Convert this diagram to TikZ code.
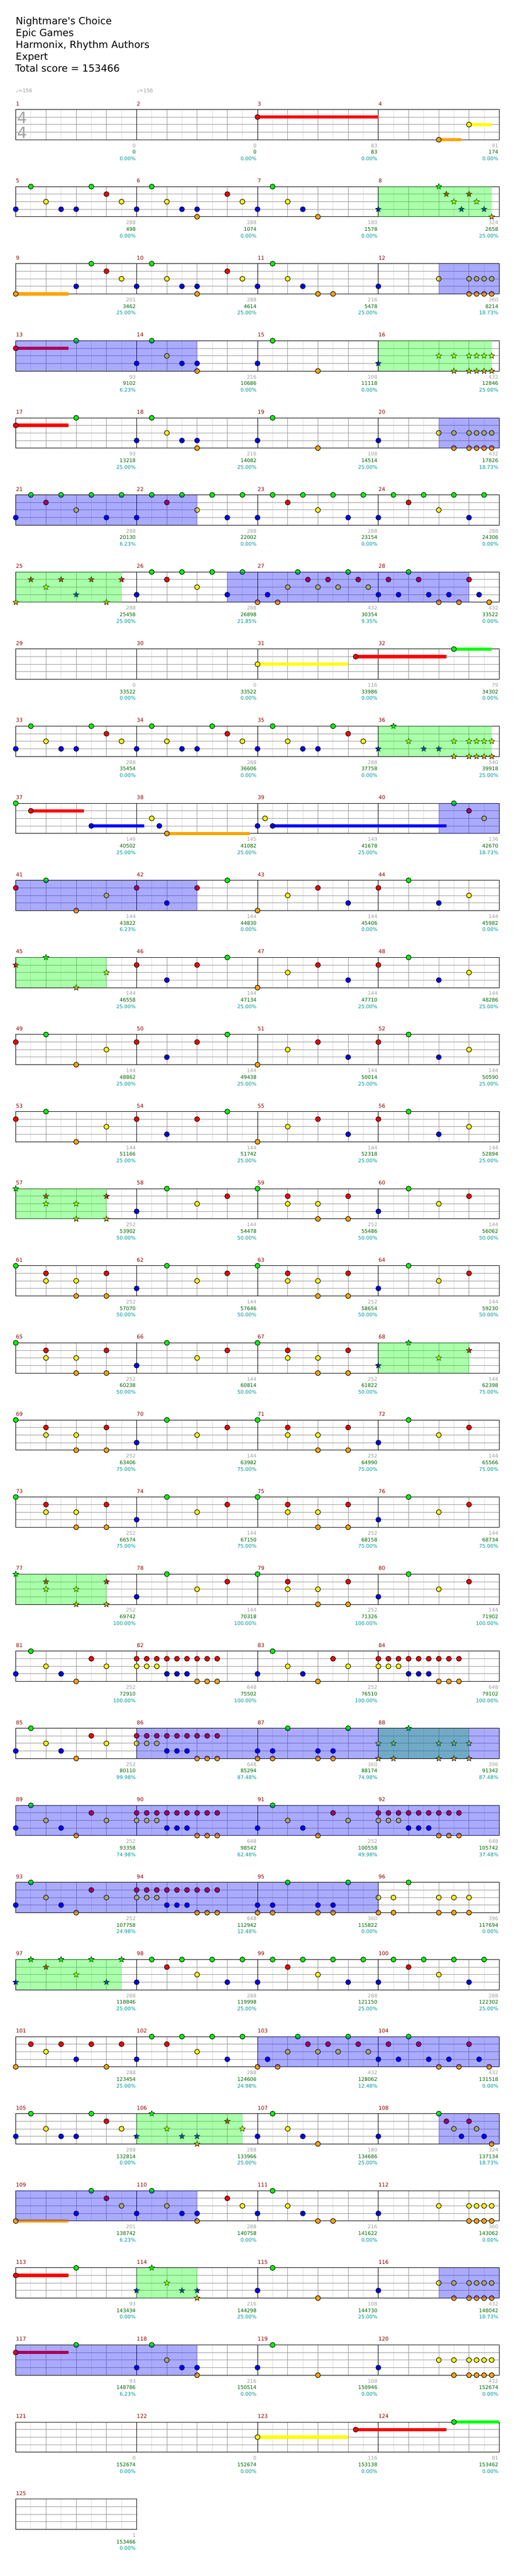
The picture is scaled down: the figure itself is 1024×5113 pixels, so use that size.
\documentclass[tikz,border=0pt]{standalone}
\usepackage{fontspec}
\newfontfamily\dv{DejaVu Sans}
\usetikzlibrary{shapes.geometric}
\definecolor{cG}{RGB}{0,255,0}
\definecolor{cR}{RGB}{255,0,0}
\definecolor{cY}{RGB}{255,255,0}
\definecolor{cB}{RGB}{0,0,255}
\definecolor{cO}{RGB}{255,165,0}
\definecolor{lgray}{RGB}{221,221,221}
\definecolor{mgray}{RGB}{153,153,153}
\definecolor{numred}{RGB}{139,0,0}
\definecolor{scgray}{RGB}{160,160,160}
\definecolor{scgreen}{RGB}{0,100,0}
\definecolor{sccyan}{RGB}{0,150,150}
\def\yG{0}\def\yR{15}\def\yY{30}\def\yB{45}\def\yO{60}
\tikzset{
  starnote/.style={star,star points=5,star point ratio=2.3,draw=black,line width=0.35pt,inner sep=0pt,minimum size=6pt},
  mnum/.style={anchor=base west,inner sep=0pt,text=numred,font=\dv\fontsize{5.25}{6}\selectfont},
  sc/.style={anchor=base east,inner sep=0pt,font=\dv\fontsize{5}{6}\selectfont},
  hdr/.style={anchor=base west,inner sep=0pt,font=\dv\fontsize{9.75}{11}\selectfont},
}
\newcommand\nt[2]{\foreach \pp in {#2}{\filldraw[fill=c#1,draw=black,line width=0.5pt] ({31.333+15*(\pp)},\csname y#1\endcsname) circle[radius=5];}}
\newcommand\stn[2]{\foreach \pp in {#2}{\node[starnote,fill=c#1] at ({31.333+15*(\pp)},\csname y#1\endcsname) {};}}
\newcommand\sus[3]{\fill[c#1] ({31.333+15*(#2)},{\csname y#1\endcsname-3.3}) rectangle ({31.333+15*(#3)},{\csname y#1\endcsname+3.3});}
\newcommand\ovb[2]{\fill[cB,fill opacity=0.333] ({31.333+15*(#1)},0) rectangle ({31.333+15*(#2)},60);}
\newcommand\ovg[2]{\fill[cG,fill opacity=0.333] ({31.333+15*(#1)},0) rectangle ({31.333+15*(#2)},60);}
\newcommand\rowgrid[1]{%
 \foreach \mm in {0,...,#1}{%
  \foreach \dx in {30,90,150,210}{\draw[lgray,line width=0.5pt] ({31.333+240*\mm+\dx},0)--++(0,60);}
  \foreach \dx in {60,120,180}{\draw[mgray,line width=0.5pt] ({31.333+240*\mm+\dx},0)--++(0,60);}
 }%
 \foreach \yy in {15,30,45}{\draw[mgray,line width=0.5pt] (31.333,\yy)--({31.333+240*(#1+1)},\yy);}
 \foreach \mm in {0,...,#1}{\draw[black,line width=0.5pt] ({31.333+240*\mm},0)--++(0,60);}
 \draw[black,line width=0.5pt] (31.333,0) rectangle ({31.333+240*(#1+1)},60);
}
\newcommand\msr[5]{%
 \node[mnum] at ({31.333+240*#1},-7.7) {#2};
 \node[sc,text=scgray] at ({31.333+240*(#1+1)-1.5},75.3) {#3};
 \node[sc,text=scgreen] at ({31.333+240*(#1+1)-1.5},88.3) {#4};
 \node[sc,text=sccyan] at ({31.333+240*(#1+1)-1.5},101.3) {#5\%};
}
\newcommand\trip[1]{\nt{R}{#1+0,#1+1.333,#1+2.667,#1+4,#1+5.333,#1+6.667,#1+8,#1+9.333,#1+10.667}\nt{Y}{#1+0,#1+1.333,#1+2.667}\nt{B}{#1+4,#1+5.333,#1+6.667}\nt{O}{#1+8,#1+9.333,#1+10.667}}
\newcommand\patA{\nt{R}{0,16,24,40,48}\nt{G}{4,28,52}\nt{O}{8,32}\nt{Y}{12,36,60}\nt{B}{20,44,56}}
\newcommand\patB{\nt{G}{0,20,32,52}\nt{R}{4,12,28,36,44,60}\nt{Y}{4,8,24,36,40,56}\nt{O}{8,12,40,44}\nt{B}{16,48}}
\newcommand\patS{\stn{G}{0}\stn{R}{4,12}\stn{Y}{4,8}\stn{O}{8,12}\nt{G}{20,32,52}\nt{R}{28,36,44,60}\nt{Y}{24,36,40,56}\nt{O}{40,44}\nt{B}{16,48}\ovg{0}{12}}
\begin{document}
\begin{tikzpicture}[x=0.5pt,y=-0.5pt]
\useasboundingbox (0,0) rectangle (1024,5113);
\node[hdr] (t1) at (31,49) {Nightmare's Choice};
\node[hdr] (t2) at (31,72.3) {Epic Games};
\node[hdr] (t3) at (31,95.7) {Harmonix, Rhythm Authors};
\node[hdr] (t4) at (31,119) {Expert};
\node[hdr] (t5) at (30,142.3) {Total score = 153466};
\node[anchor=base west,inner sep=0pt,text=mgray,font=\dv\fontsize{5}{6}\selectfont] (tp1) at (31.333,184) {♩=156};
\node[anchor=base west,inner sep=0pt,text=mgray,font=\dv\fontsize{5}{6}\selectfont] (tp2) at (271.333,184) {♩=156};
% row 1
\begin{scope}[shift={(0,217.333)}]
\rowgrid{3}
\node[anchor=base,inner sep=0pt,text=scgray,font=\dv\fontsize{15.5}{16}\selectfont] (ts1) at (44.5,28) {4};
\node[anchor=base,inner sep=0pt,text=scgray,font=\dv\fontsize{15.5}{16}\selectfont] (ts2) at (44.5,57) {4};
\sus{R}{32}{48}\sus{O}{56}{59}\sus{Y}{60}{63}
\nt{R}{32}\nt{O}{56}\nt{Y}{60}
\msr{0}{1}{0}{0}{0.00}\msr{1}{2}{0}{0}{0.00}\msr{2}{3}{83}{83}{0.00}\msr{3}{4}{91}{174}{0.00}
\end{scope}
% row 2
\begin{scope}[shift={(0,370.333)}]
\rowgrid{3}
\nt{G}{2,10,18,34}\nt{R}{12,28}\nt{Y}{4,14,20,30,36}\nt{B}{0,6,8,16,22,24,32,38}\nt{O}{24,40}
\stn{B}{48,59,62}\stn{G}{56}\stn{R}{57,60}\stn{Y}{58,61}\stn{O}{63}
\ovg{48}{63}
\msr{0}{5}{288}{498}{0.00}\msr{1}{6}{288}{1074}{0.00}\msr{2}{7}{180}{1578}{0.00}\msr{3}{8}{324}{2658}{25.00}
\end{scope}
% row 3
\begin{scope}[shift={(0,523.333)}]
\rowgrid{3}
\sus{O}{0}{7}
\nt{G}{10,18,34}\nt{R}{12,28}\nt{Y}{14,20,30,36,56,60,61,62,63}\nt{B}{8,16,22,24,32,38,48}\nt{O}{0,24,40,42,60,61,62,63}
\ovb{56}{64}
\msr{0}{9}{201}{3462}{25.00}\msr{1}{10}{288}{4614}{25.00}\msr{2}{11}{216}{5478}{25.00}\msr{3}{12}{360}{8214}{18.73}
\end{scope}
% row 4
\begin{scope}[shift={(0,676.333)}]
\rowgrid{3}
\sus{R}{0}{7}\nt{R}{0}\nt{G}{8,18,34}\nt{Y}{20}\nt{B}{16,22,24,32}\nt{O}{24,40}
\stn{B}{48}\stn{Y}{56,58,60,61,62,63}\stn{O}{58,60,61,62,63}
\ovg{48}{63}\ovb{0}{24}
\msr{0}{13}{93}{9102}{6.23}\msr{1}{14}{216}{10686}{0.00}\msr{2}{15}{108}{11118}{0.00}\msr{3}{16}{432}{12846}{25.00}
\end{scope}
% row 5
\begin{scope}[shift={(0,829.333)}]
\rowgrid{3}
\sus{R}{0}{7}\nt{R}{0}\nt{G}{8,18,34}\nt{Y}{20,56,58,60,61,62,63}\nt{B}{16,22,24,32,48}\nt{O}{24,40,58,60,61,62,63}
\ovb{56}{64}
\msr{0}{17}{93}{13218}{25.00}\msr{1}{18}{216}{14082}{25.00}\msr{2}{19}{108}{14514}{25.00}\msr{3}{20}{432}{17826}{18.73}
\end{scope}
% row 6
\begin{scope}[shift={(0,982.333)}]
\rowgrid{3}
\nt{G}{2,6,10,14,18,22,26,30,34,38,42,46,50,54,58,62}\nt{R}{4,20,36,52}\nt{Y}{8,24,40,56}\nt{B}{0,12,16,28,32,44,48,60}
\ovb{0}{24}
\msr{0}{21}{288}{20130}{6.23}\msr{1}{22}{288}{22002}{0.00}\msr{2}{23}{288}{23154}{0.00}\msr{3}{24}{288}{24306}{0.00}
\end{scope}
% row 7
\begin{scope}[shift={(0,1135.333)}]
\rowgrid{3}
\stn{O}{0,12}\stn{R}{2,6,10,14}\stn{Y}{4}\stn{B}{8}
\nt{G}{18,22,26,30,37.333,44,52}\nt{R}{20,38.667,41.333,45.333,49.333,53.333,60}\nt{Y}{24,36,40,42.667,46.667}\nt{B}{16,28,33.333,48,50.667,54.667,57.333,61.333}\nt{O}{32,34.667,56,58.667,62.667}
\ovg{0}{14}\ovb{28}{60}
\msr{0}{25}{288}{25458}{25.00}\msr{1}{26}{288}{26898}{21.85}\msr{2}{27}{432}{30354}{9.35}\msr{3}{28}{432}{33522}{0.00}
\end{scope}
% row 8
\begin{scope}[shift={(0,1288.333)}]
\rowgrid{3}
\sus{Y}{32}{44}\sus{R}{45}{57}\sus{G}{58}{63}\nt{Y}{32}\nt{R}{45}\nt{G}{58}
\msr{0}{29}{0}{33522}{0.00}\msr{1}{30}{0}{33522}{0.00}\msr{2}{31}{116}{33986}{0.00}\msr{3}{32}{79}{34302}{0.00}
\end{scope}
% row 9
\begin{scope}[shift={(0,1441.333)}]
\rowgrid{3}
\nt{G}{2,10,18,26,34,42}\nt{R}{12,28,44}\nt{Y}{4,14,20,30,36,46}\nt{B}{0,6,8,16,22,24,32,38,40}
\stn{B}{48,54,56}\stn{G}{50}\stn{Y}{52,58,60,61,62,63}\stn{O}{58,60,61,62,63}
\ovg{48}{63}
\msr{0}{33}{288}{35454}{0.00}\msr{1}{34}{288}{36606}{0.00}\msr{2}{35}{288}{37758}{0.00}\msr{3}{36}{540}{39918}{25.00}
\end{scope}
% row 10
\begin{scope}[shift={(0,1594.333)}]
\rowgrid{3}
\sus{R}{2}{9}\sus{B}{10}{17}\sus{O}{20}{31}\sus{B}{34}{57}
\nt{G}{0,58}\nt{R}{2,60}\nt{B}{10,19,32,34}\nt{Y}{18,33,62}\nt{O}{20}
\ovb{56}{64}
\msr{0}{37}{146}{40502}{25.00}\msr{1}{38}{145}{41082}{25.00}\msr{2}{39}{149}{41678}{25.00}\msr{3}{40}{136}{42670}{18.73}
\end{scope}
% row 11
\begin{scope}[shift={(0,1747.333)}]
\rowgrid{3}
\patA
\ovb{0}{24}
\msr{0}{41}{144}{43822}{6.23}\msr{1}{42}{144}{44830}{0.00}\msr{2}{43}{144}{45406}{0.00}\msr{3}{44}{144}{45982}{0.00}
\end{scope}
% row 12
\begin{scope}[shift={(0,1900.333)}]
\rowgrid{3}
\stn{R}{0}\stn{G}{4}\stn{O}{8}\stn{Y}{12}
\nt{R}{16,24,40,48}\nt{G}{28,52}\nt{O}{32}\nt{Y}{36,60}\nt{B}{20,44,56}
\ovg{0}{12}
\msr{0}{45}{144}{46558}{25.00}\msr{1}{46}{144}{47134}{25.00}\msr{2}{47}{144}{47710}{25.00}\msr{3}{48}{144}{48286}{25.00}
\end{scope}
% row 13
\begin{scope}[shift={(0,2053.333)}]
\rowgrid{3}
\patA
\msr{0}{49}{144}{48862}{25.00}\msr{1}{50}{144}{49438}{25.00}\msr{2}{51}{144}{50014}{25.00}\msr{3}{52}{144}{50590}{25.00}
\end{scope}
% row 14
\begin{scope}[shift={(0,2206.333)}]
\rowgrid{3}
\patA
\msr{0}{53}{144}{51166}{25.00}\msr{1}{54}{144}{51742}{25.00}\msr{2}{55}{144}{52318}{25.00}\msr{3}{56}{144}{52894}{25.00}
\end{scope}
% row 15
\begin{scope}[shift={(0,2359.333)}]
\rowgrid{3}
\patS
\msr{0}{57}{252}{53902}{50.00}\msr{1}{58}{144}{54478}{50.00}\msr{2}{59}{252}{55486}{50.00}\msr{3}{60}{144}{56062}{50.00}
\end{scope}
% row 16
\begin{scope}[shift={(0,2512.333)}]
\rowgrid{3}
\patB
\msr{0}{61}{252}{57070}{50.00}\msr{1}{62}{144}{57646}{50.00}\msr{2}{63}{252}{58654}{50.00}\msr{3}{64}{144}{59230}{50.00}
\end{scope}
% row 17
\begin{scope}[shift={(0,2665.333)}]
\rowgrid{3}
\nt{G}{0,20,32}\nt{R}{4,12,28,36,44}\nt{Y}{4,8,24,36,40}\nt{O}{8,12,40,44}\nt{B}{16}
\stn{B}{48}\stn{G}{52}\stn{Y}{56}\stn{R}{60}
\ovg{48}{60}
\msr{0}{65}{252}{60238}{50.00}\msr{1}{66}{144}{60814}{50.00}\msr{2}{67}{252}{61822}{50.00}\msr{3}{68}{144}{62398}{75.00}
\end{scope}
% row 18
\begin{scope}[shift={(0,2818.333)}]
\rowgrid{3}
\patB
\msr{0}{69}{252}{63406}{75.00}\msr{1}{70}{144}{63982}{75.00}\msr{2}{71}{252}{64990}{75.00}\msr{3}{72}{144}{65566}{75.00}
\end{scope}
% row 19
\begin{scope}[shift={(0,2971.333)}]
\rowgrid{3}
\patB
\msr{0}{73}{252}{66574}{75.00}\msr{1}{74}{144}{67150}{75.00}\msr{2}{75}{252}{68158}{75.00}\msr{3}{76}{144}{68734}{75.00}
\end{scope}
% row 20
\begin{scope}[shift={(0,3124.333)}]
\rowgrid{3}
\patS
\msr{0}{77}{252}{69742}{100.00}\msr{1}{78}{144}{70318}{100.00}\msr{2}{79}{252}{71326}{100.00}\msr{3}{80}{144}{71902}{100.00}
\end{scope}
% row 21
\begin{scope}[shift={(0,3277.333)}]
\rowgrid{3}
\nt{B}{0,6,32,38}\nt{G}{2,34}\nt{Y}{4,12,36,44}\nt{O}{8,40}\nt{R}{10,42}
\trip{16}\trip{48}
\msr{0}{81}{252}{72910}{100.00}\msr{1}{82}{648}{75502}{100.00}\msr{2}{83}{252}{76510}{100.00}\msr{3}{84}{648}{79102}{100.00}
\end{scope}
% row 22
\begin{scope}[shift={(0,3430.333)}]
\rowgrid{3}
\nt{B}{0,6,32,34,40,42}\nt{G}{2,36,44}\nt{Y}{4,12}\nt{O}{8,32,34,40,42}\nt{R}{10}\trip{16}
\stn{Y}{48,50,56,58,60}\stn{O}{48,50,56,58,60}\stn{G}{52}
\ovg{48}{60}\ovb{16}{64}
\msr{0}{85}{252}{80110}{99.98}\msr{1}{86}{648}{85294}{87.48}\msr{2}{87}{360}{88174}{74.98}\msr{3}{88}{396}{91342}{87.48}
\end{scope}
% row 23
\begin{scope}[shift={(0,3583.333)}]
\rowgrid{3}
\nt{B}{0,6,32,38}\nt{G}{2,34}\nt{Y}{4,12,36,44}\nt{O}{8,40}\nt{R}{10,42}
\trip{16}\trip{48}
\ovb{0}{64}
\msr{0}{89}{252}{93358}{74.98}\msr{1}{90}{648}{98542}{62.48}\msr{2}{91}{252}{100558}{49.98}\msr{3}{92}{648}{105742}{37.48}
\end{scope}
% row 24
\begin{scope}[shift={(0,3736.333)}]
\rowgrid{3}
\nt{B}{0,6,32,34,40,42}\nt{G}{2,36,44,52}\nt{Y}{4,12,48,50,56,58,60}\nt{O}{8,32,34,40,42,48,50,56,58,60}\nt{R}{10}\trip{16}
\ovb{0}{48}
\msr{0}{93}{252}{107758}{24.98}\msr{1}{94}{648}{112942}{12.48}\msr{2}{95}{360}{115822}{0.00}\msr{3}{96}{396}{117694}{0.00}
\end{scope}
% row 25
\begin{scope}[shift={(0,3889.333)}]
\rowgrid{3}
\stn{B}{0,12}\stn{G}{2,6,10,14}\stn{R}{4}\stn{Y}{8}
\nt{G}{18,22,26,30,34,38,42,46,50,54,58,62}\nt{R}{20,36,52}\nt{Y}{24,40,56}\nt{B}{16,28,32,44,48,60}
\ovg{0}{14}
\msr{0}{97}{288}{118846}{25.00}\msr{1}{98}{288}{119998}{25.00}\msr{2}{99}{288}{121150}{25.00}\msr{3}{100}{288}{122302}{25.00}
\end{scope}
% row 26
\begin{scope}[shift={(0,4042.333)}]
\rowgrid{3}
\nt{O}{0,12,32,34.667,56,58.667,62.667}\nt{R}{2,6,10,14,20,38.667,41.333,45.333,49.333,53.333,60}\nt{Y}{4,24,36,40,42.667,46.667}\nt{B}{8,16,28,33.333,48,50.667,54.667,57.333,61.333}\nt{G}{18,22,26,30,37.333,44,52}
\ovb{32}{64}
\msr{0}{101}{288}{123454}{25.00}\msr{1}{102}{288}{124606}{24.98}\msr{2}{103}{432}{128062}{12.48}\msr{3}{104}{432}{131518}{0.00}
\end{scope}
% row 27
\begin{scope}[shift={(0,4195.333)}]
\rowgrid{3}
\nt{B}{0,6,8,32,38,48,59,62}\nt{G}{2,10,34,56}\nt{Y}{4,14,36,58,61}\nt{R}{12,57,60}\nt{O}{40,63}
\stn{B}{16,22,24}\stn{G}{18}\stn{Y}{20,30}\stn{O}{24}\stn{R}{28}
\ovg{16}{30}\ovb{56}{64}
\msr{0}{105}{288}{132814}{0.00}\msr{1}{106}{288}{133966}{25.00}\msr{2}{107}{180}{134686}{25.00}\msr{3}{108}{324}{137134}{18.73}
\end{scope}
% row 28
\begin{scope}[shift={(0,4348.333)}]
\rowgrid{3}
\sus{O}{0}{7}
\nt{G}{10,18,34}\nt{R}{12,28}\nt{Y}{14,20,30,36,56,60,61,62,63}\nt{B}{8,16,22,24,32,38,48}\nt{O}{0,24,40,42,60,61,62,63}
\ovb{0}{24}
\msr{0}{109}{201}{138742}{6.23}\msr{1}{110}{288}{140758}{0.00}\msr{2}{111}{216}{141622}{0.00}\msr{3}{112}{360}{143062}{0.00}
\end{scope}
% row 29
\begin{scope}[shift={(0,4501.333)}]
\rowgrid{3}
\sus{R}{0}{7}\nt{R}{0}\nt{G}{8,34}\nt{B}{32,48}\nt{O}{40,58,60,61,62,63}\nt{Y}{56,58,60,61,62,63}
\stn{B}{16,22,24}\stn{G}{18}\stn{Y}{20}\stn{O}{24}
\ovg{16}{24}\ovb{56}{64}
\msr{0}{113}{93}{143434}{0.00}\msr{1}{114}{216}{144298}{25.00}\msr{2}{115}{108}{144730}{25.00}\msr{3}{116}{432}{148042}{18.73}
\end{scope}
% row 30
\begin{scope}[shift={(0,4654.333)}]
\rowgrid{3}
\sus{R}{0}{7}\nt{R}{0}\nt{G}{8,18,34}\nt{Y}{20,56,58,60,61,62,63}\nt{B}{16,22,24,32,48}\nt{O}{24,40,58,60,61,62,63}
\ovb{0}{24}
\msr{0}{117}{93}{148786}{6.23}\msr{1}{118}{216}{150514}{0.00}\msr{2}{119}{108}{150946}{0.00}\msr{3}{120}{432}{152674}{0.00}
\end{scope}
% row 31
\begin{scope}[shift={(0,4807.333)}]
\rowgrid{3}
\sus{Y}{32}{44}\sus{R}{45}{57}\sus{G}{58}{64}\nt{Y}{32}\nt{R}{45}\nt{G}{58}
\msr{0}{121}{0}{152674}{0.00}\msr{1}{122}{0}{152674}{0.00}\msr{2}{123}{116}{153138}{0.00}\msr{3}{124}{81}{153462}{0.00}
\end{scope}
% row 32
\begin{scope}[shift={(0,4960.333)}]
\rowgrid{0}
\msr{0}{125}{1}{153466}{0.00}
\end{scope}
\end{tikzpicture}
\end{document}
